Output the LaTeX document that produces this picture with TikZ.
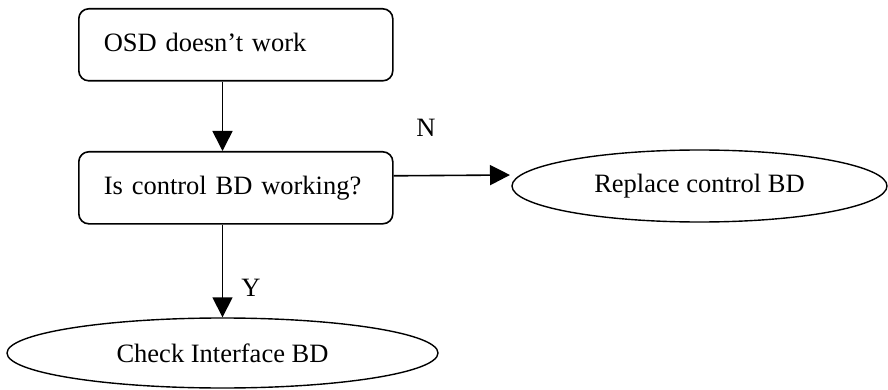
\documentclass[tikz,border=0pt]{standalone}
\usepackage{fontspec}
\setmainfont{Liberation Serif}
\usetikzlibrary{shapes.geometric,arrows.meta,positioning}
\begin{document}
\begin{tikzpicture}[x=1pt,y=-1pt,
  every node/.style={font=\fontsize{26.5}{30}\selectfont},
  boxnode/.style={draw,line width=1.6pt,rounded corners=10pt,minimum height=72pt,text width=264pt,inner xsep=25pt,inner ysep=0pt,align=left,anchor=north west},
  ellnode/.style={draw,ellipse,line width=1.4pt,inner sep=0pt},
  arr/.style={line width=1.6pt,-{Triangle[length=20pt,width=20pt]}},
  lbl/.style={inner sep=0pt}]
\useasboundingbox (0,0) rectangle (888,390);
\node[boxnode] (b1) at (78,8) {\raisebox{5pt}{OSD doesn't work}};
\node[boxnode] (b2) at (78,151) {\raisebox{-2pt}{Is control BD working?}};
\node[ellnode,minimum width=375pt,minimum height=72pt] (e1) at (699.5,186) {Replace control BD};
\node[ellnode,minimum width=431pt,minimum height=70pt] (e2) at (222.5,353) {Check Interface BD};
\coordinate (nstart) at ([yshift=12pt]b2.east);
\coordinate (nend) at (510,175);
\draw[arr] (b1.south -| e2.north) -- (b2.north -| e2.north);
\draw[arr] (nstart) -- (nend);
\draw[arr] (b2.south -| e2.north) -- (e2.north);
\node[lbl] (n) at (426,128) {N};
\node[lbl] (y) at (251,288) {Y};
\end{tikzpicture}
\end{document}
